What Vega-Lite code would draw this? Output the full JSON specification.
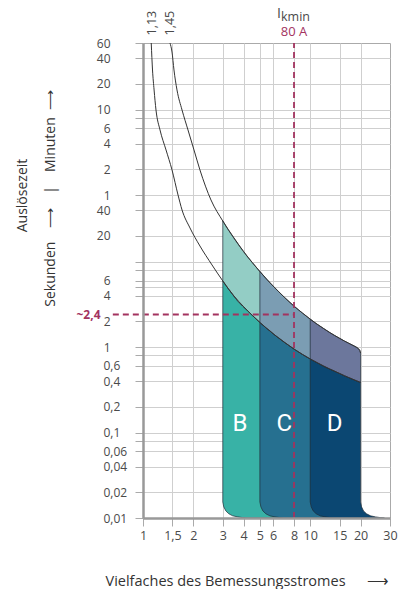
{
  "$schema": "https://vega.github.io/schema/vega-lite/v6.json",
  "width": 247,
  "height": 475,
  "autosize": {"type": "none"},
  "padding": {"left": 143, "top": 43, "right": 8, "bottom": 71},
  "background": "white",
  "config": {
    "font": "Open Sans",
    "view": {"stroke": "#aaaaaa", "strokeWidth": 1}
  },
  "resolve": {"axis": {"x": "independent", "y": "independent"}},
  "datasets": {
    "curves": [
      {"c": "U", "x": 1.45, "t": 3600}, {"c": "U", "x": 1.491, "t": 2825}, {"c": "U", "x": 1.532, "t": 1740},
      {"c": "U", "x": 1.597, "t": 1016}, {"c": "U", "x": 1.712, "t": 592}, {"c": "U", "x": 1.858, "t": 346},
      {"c": "U", "x": 2.018, "t": 202}, {"c": "U", "x": 2.19, "t": 118}, {"c": "U", "x": 2.55, "t": 52.5},
      {"c": "U", "x": 3, "t": 29.8}, {"c": "U", "x": 3.5, "t": 18.9}, {"c": "U", "x": 4, "t": 13.08},
      {"c": "U", "x": 4.5, "t": 9.75}, {"c": "U", "x": 5, "t": 7.63}, {"c": "U", "x": 5.5, "t": 6.2},
      {"c": "U", "x": 6, "t": 5.18}, {"c": "U", "x": 7, "t": 3.83}, {"c": "U", "x": 8, "t": 3.01},
      {"c": "U", "x": 9, "t": 2.49}, {"c": "U", "x": 10, "t": 2.12}, {"c": "U", "x": 11, "t": 1.85},
      {"c": "U", "x": 12, "t": 1.65}, {"c": "U", "x": 13, "t": 1.49}, {"c": "U", "x": 14, "t": 1.365},
      {"c": "U", "x": 15, "t": 1.263}, {"c": "U", "x": 16, "t": 1.177}, {"c": "U", "x": 17, "t": 1.107},
      {"c": "U", "x": 18, "t": 1.046}, {"c": "U", "x": 19, "t": 0.988}, {"c": "U", "x": 19.5, "t": 0.949},
      {"c": "U", "x": 19.8, "t": 0.912}, {"c": "U", "x": 20, "t": 0.852},
      {"c": "L", "x": 1.12, "t": 3600}, {"c": "L", "x": 1.14, "t": 1740}, {"c": "L", "x": 1.165, "t": 1016},
      {"c": "L", "x": 1.196, "t": 592}, {"c": "L", "x": 1.264, "t": 346}, {"c": "L", "x": 1.373, "t": 202},
      {"c": "L", "x": 1.491, "t": 118}, {"c": "L", "x": 1.62, "t": 60}, {"c": "L", "x": 1.712, "t": 40.1},
      {"c": "L", "x": 1.91, "t": 24.7}, {"c": "L", "x": 2.19, "t": 15.2}, {"c": "L", "x": 2.587, "t": 9.12},
      {"c": "L", "x": 3, "t": 5.93}, {"c": "L", "x": 3.5, "t": 3.95}, {"c": "L", "x": 4, "t": 2.96},
      {"c": "L", "x": 4.5, "t": 2.35}, {"c": "L", "x": 5, "t": 1.94}, {"c": "L", "x": 5.5, "t": 1.65},
      {"c": "L", "x": 6, "t": 1.43}, {"c": "L", "x": 7, "t": 1.137}, {"c": "L", "x": 8, "t": 0.947},
      {"c": "L", "x": 9, "t": 0.818}, {"c": "L", "x": 10, "t": 0.725}, {"c": "L", "x": 11, "t": 0.657},
      {"c": "L", "x": 12, "t": 0.602}, {"c": "L", "x": 13, "t": 0.557}, {"c": "L", "x": 14, "t": 0.521},
      {"c": "L", "x": 15, "t": 0.49}, {"c": "L", "x": 16, "t": 0.462}, {"c": "L", "x": 17, "t": 0.439},
      {"c": "L", "x": 18, "t": 0.419}, {"c": "L", "x": 19, "t": 0.401}, {"c": "L", "x": 20, "t": 0.385}
    ],
    "zones": [
      {"z": "B", "k": "B dark", "x": 3, "top": 5.93, "bot": 0.0154},
      {"z": "B", "k": "B dark", "x": 3.04, "top": 5.74, "bot": 0.0135},
      {"z": "B", "k": "B dark", "x": 3.13, "top": 5.26, "bot": 0.0121},
      {"z": "B", "k": "B dark", "x": 3.26, "top": 4.73, "bot": 0.0112},
      {"z": "B", "k": "B dark", "x": 3.44, "top": 4.1, "bot": 0.0106},
      {"z": "B", "k": "B dark", "x": 3.69, "top": 3.44, "bot": 0.0103},
      {"z": "B", "k": "B dark", "x": 3.95, "top": 3.0, "bot": 0.0101},
      {"z": "B", "k": "B dark", "x": 4.18, "top": 2.71, "bot": 0.01},
      {"z": "B", "k": "B dark", "x": 4.5, "top": 2.35, "bot": 0.01},
      {"z": "B", "k": "B dark", "x": 5, "top": 1.94, "bot": 0.01},
      {"z": "B", "k": "B dark", "x": 5.5, "top": 1.65, "bot": 0.01},
      {"z": "B", "k": "B dark", "x": 6, "top": 1.43, "bot": 0.01},
      {"z": "B", "k": "B dark", "x": 7, "top": 1.137, "bot": 0.01},
      {"z": "B", "k": "B light", "x": 3, "top": 29.8, "bot": 5.93},
      {"z": "B", "k": "B light", "x": 3.04, "top": 28.7, "bot": 5.74},
      {"z": "B", "k": "B light", "x": 3.13, "top": 26.0, "bot": 5.26},
      {"z": "B", "k": "B light", "x": 3.26, "top": 23.0, "bot": 4.73},
      {"z": "B", "k": "B light", "x": 3.44, "top": 19.6, "bot": 4.1},
      {"z": "B", "k": "B light", "x": 3.69, "top": 16.1, "bot": 3.44},
      {"z": "B", "k": "B light", "x": 3.95, "top": 13.4, "bot": 3.0},
      {"z": "B", "k": "B light", "x": 4.18, "top": 11.6, "bot": 2.71},
      {"z": "B", "k": "B light", "x": 4.5, "top": 9.75, "bot": 2.35},
      {"z": "B", "k": "B light", "x": 5, "top": 7.63, "bot": 1.94},
      {"z": "B", "k": "B light", "x": 5.3, "top": 6.74, "bot": 1.75},
      {"z": "C", "k": "C dark", "x": 5, "top": 1.94, "bot": 0.0154},
      {"z": "C", "k": "C dark", "x": 5.07, "top": 1.89, "bot": 0.0135},
      {"z": "C", "k": "C dark", "x": 5.21, "top": 1.81, "bot": 0.0121},
      {"z": "C", "k": "C dark", "x": 5.43, "top": 1.68, "bot": 0.0112},
      {"z": "C", "k": "C dark", "x": 5.74, "top": 1.55, "bot": 0.0106},
      {"z": "C", "k": "C dark", "x": 6.15, "top": 1.38, "bot": 0.0103},
      {"z": "C", "k": "C dark", "x": 6.59, "top": 1.25, "bot": 0.0101},
      {"z": "C", "k": "C dark", "x": 6.96, "top": 1.15, "bot": 0.01},
      {"z": "C", "k": "C dark", "x": 8, "top": 0.947, "bot": 0.01},
      {"z": "C", "k": "C dark", "x": 9, "top": 0.818, "bot": 0.01},
      {"z": "C", "k": "C dark", "x": 10, "top": 0.725, "bot": 0.01},
      {"z": "C", "k": "C dark", "x": 11, "top": 0.657, "bot": 0.01},
      {"z": "C", "k": "C dark", "x": 12, "top": 0.602, "bot": 0.01},
      {"z": "C", "k": "C dark", "x": 13, "top": 0.557, "bot": 0.01},
      {"z": "C", "k": "C dark", "x": 14, "top": 0.521, "bot": 0.01},
      {"z": "C", "k": "C light", "x": 5, "top": 7.63, "bot": 1.94},
      {"z": "C", "k": "C light", "x": 5.07, "top": 7.41, "bot": 1.89},
      {"z": "C", "k": "C light", "x": 5.21, "top": 6.98, "bot": 1.81},
      {"z": "C", "k": "C light", "x": 5.43, "top": 6.37, "bot": 1.68},
      {"z": "C", "k": "C light", "x": 5.74, "top": 5.64, "bot": 1.55},
      {"z": "C", "k": "C light", "x": 6.15, "top": 4.91, "bot": 1.38},
      {"z": "C", "k": "C light", "x": 6.59, "top": 4.29, "bot": 1.25},
      {"z": "C", "k": "C light", "x": 6.96, "top": 3.86, "bot": 1.15},
      {"z": "C", "k": "C light", "x": 8, "top": 3.01, "bot": 0.947},
      {"z": "C", "k": "C light", "x": 9, "top": 2.49, "bot": 0.818},
      {"z": "C", "k": "C light", "x": 10, "top": 2.12, "bot": 0.725},
      {"z": "C", "k": "C light", "x": 10.3, "top": 2.02, "bot": 0.706},
      {"z": "D", "k": "D dark", "x": 10, "top": 0.725, "bot": 0.0154},
      {"z": "D", "k": "D dark", "x": 10.14, "top": 0.714, "bot": 0.0135},
      {"z": "D", "k": "D dark", "x": 10.42, "top": 0.693, "bot": 0.0121},
      {"z": "D", "k": "D dark", "x": 10.86, "top": 0.664, "bot": 0.0112},
      {"z": "D", "k": "D dark", "x": 11.48, "top": 0.625, "bot": 0.0106},
      {"z": "D", "k": "D dark", "x": 12.29, "top": 0.583, "bot": 0.0103},
      {"z": "D", "k": "D dark", "x": 13.17, "top": 0.549, "bot": 0.0101},
      {"z": "D", "k": "D dark", "x": 13.92, "top": 0.524, "bot": 0.01},
      {"z": "D", "k": "D dark", "x": 15, "top": 0.49, "bot": 0.01},
      {"z": "D", "k": "D dark", "x": 16, "top": 0.462, "bot": 0.01},
      {"z": "D", "k": "D dark", "x": 17, "top": 0.439, "bot": 0.01},
      {"z": "D", "k": "D dark", "x": 18, "top": 0.419, "bot": 0.01},
      {"z": "D", "k": "D dark", "x": 19, "top": 0.401, "bot": 0.01},
      {"z": "D", "k": "D dark", "x": 20, "top": 0.385, "bot": 0.01},
      {"z": "D", "k": "D dark", "x": 20.02, "top": 0.0154, "bot": 0.01},
      {"z": "D", "k": "D dark", "x": 20.28, "top": 0.0135, "bot": 0.01},
      {"z": "D", "k": "D dark", "x": 20.84, "top": 0.0121, "bot": 0.01},
      {"z": "D", "k": "D dark", "x": 21.72, "top": 0.0112, "bot": 0.01},
      {"z": "D", "k": "D dark", "x": 22.95, "top": 0.0106, "bot": 0.01},
      {"z": "D", "k": "D dark", "x": 24.6, "top": 0.0103, "bot": 0.01},
      {"z": "D", "k": "D dark", "x": 26.3, "top": 0.0101, "bot": 0.01},
      {"z": "D", "k": "D dark", "x": 27.8, "top": 0.01, "bot": 0.01},
      {"z": "D", "k": "D light", "x": 10, "top": 2.12, "bot": 0.725},
      {"z": "D", "k": "D light", "x": 10.14, "top": 2.07, "bot": 0.714},
      {"z": "D", "k": "D light", "x": 10.42, "top": 1.99, "bot": 0.693},
      {"z": "D", "k": "D light", "x": 10.86, "top": 1.88, "bot": 0.664},
      {"z": "D", "k": "D light", "x": 11.48, "top": 1.75, "bot": 0.625},
      {"z": "D", "k": "D light", "x": 12.29, "top": 1.6, "bot": 0.583},
      {"z": "D", "k": "D light", "x": 13.17, "top": 1.465, "bot": 0.549},
      {"z": "D", "k": "D light", "x": 13.92, "top": 1.373, "bot": 0.524},
      {"z": "D", "k": "D light", "x": 15, "top": 1.263, "bot": 0.49},
      {"z": "D", "k": "D light", "x": 16, "top": 1.177, "bot": 0.462},
      {"z": "D", "k": "D light", "x": 17, "top": 1.107, "bot": 0.439},
      {"z": "D", "k": "D light", "x": 18, "top": 1.046, "bot": 0.419},
      {"z": "D", "k": "D light", "x": 19, "top": 0.988, "bot": 0.401},
      {"z": "D", "k": "D light", "x": 19.5, "top": 0.949, "bot": 0.393},
      {"z": "D", "k": "D light", "x": 19.8, "top": 0.912, "bot": 0.388},
      {"z": "D", "k": "D light", "x": 20, "top": 0.852, "bot": 0.385}
    ],
    "dash": [
      {"x": 8, "x2": 8, "t": 0.01, "t2": 3600},
      {"x": 0.66, "x2": 8, "t": 2.4, "t2": 2.4}
    ],
    "letters": [
      {"x": 3.8, "t": 0.125, "txt": "B"},
      {"x": 7, "t": 0.125, "txt": "C"},
      {"x": 14, "t": 0.125, "txt": "D"}
    ],
    "top": [
      {"x": 8, "t": 4840, "txt": "80 A", "r": "a"},
      {"x": 8, "t": 7000, "txt": "I", "r": "i"},
      {"x": 8, "t": 7000, "txt": "kmin", "r": "k"}
    ]
  },
  "layer": [
    {
      "data": {"name": "zones"},
      "transform": [{"filter": "datum.z == 'B'"}],
      "mark": {"type": "area", "interpolate": "linear", "stroke": "#1e2b36", "strokeWidth": 0.7, "opacity": 1},
      "encoding": {
        "x": {"field": "x", "type": "quantitative", "scale": {"type": "log", "domain": [1, 30], "nice": false},
          "axis": {"orient": "bottom", "zindex": 0, "grid": true, "gridColor": "#cfcfcf", "gridWidth": 1, "domain": false, "ticks": false, "labels": false, "title": null,
            "values": [1.5, 2, 3, 4, 5, 6, 8, 10, 15, 20]}},
        "y": {"field": "top", "type": "quantitative", "scale": {"type": "log", "domain": [0.01, 3600], "nice": false},
          "axis": {"orient": "left", "zindex": 0, "grid": true, "gridColor": "#cfcfcf", "gridWidth": 1, "domain": false, "ticks": false, "labels": false,
            "values": [2400, 1200, 600, 480, 360, 240, 120, 60, 40, 20, 10, 8, 6, 5, 4, 2, 1, 0.8, 0.6, 0.4, 0.2, 0.1, 0.08, 0.06, 0.04, 0.02],
            "title": "Auslösezeit",
            "titleFontSize": 14, "titleFontWeight": "normal", "titleColor": "#333333",
            "titleAngle": 270, "titleAlign": "center", "titleBaseline": "middle",
            "titleX": -121, "titleY": 152}},
        "y2": {"field": "bot"},
        "color": {"field": "k", "type": "nominal", "legend": null,
          "scale": {"domain": ["B dark", "B light", "C dark", "C light", "D dark", "D light"],
            "range": ["#38b2a6", "#93cdc5", "#267090", "#7b9db3", "#0b4772", "#6c779c"]}}
      }
    },
    {
      "data": {"name": "zones"},
      "transform": [{"filter": "datum.z == 'C'"}],
      "mark": {"type": "area", "interpolate": "linear", "stroke": "#1e2b36", "strokeWidth": 0.7, "opacity": 1},
      "encoding": {
        "x": {"field": "x", "type": "quantitative", "scale": {"type": "log", "domain": [1, 30], "nice": false}, "axis": null},
        "y": {"field": "top", "type": "quantitative", "scale": {"type": "log", "domain": [0.01, 3600], "nice": false}, "axis": null},
        "y2": {"field": "bot"},
        "color": {"field": "k", "type": "nominal", "legend": null}
      }
    },
    {
      "data": {"name": "zones"},
      "transform": [{"filter": "datum.z == 'D'"}],
      "mark": {"type": "area", "interpolate": "linear", "stroke": "#1e2b36", "strokeWidth": 0.7, "opacity": 1},
      "encoding": {
        "x": {"field": "x", "type": "quantitative", "scale": {"type": "log", "domain": [1, 30], "nice": false}, "axis": null},
        "y": {"field": "top", "type": "quantitative", "scale": {"type": "log", "domain": [0.01, 3600], "nice": false}, "axis": null},
        "y2": {"field": "bot"},
        "color": {"field": "k", "type": "nominal", "legend": null}
      }
    },
    {
      "data": {"name": "curves"},
      "mark": {"type": "line", "interpolate": "monotone", "color": "#333333", "strokeWidth": 1},
      "encoding": {
        "x": {"field": "x", "type": "quantitative", "scale": {"type": "log", "domain": [1, 30], "nice": false},
          "axis": {"orient": "bottom", "zindex": 1, "grid": false,
            "values": [1, 1.5, 2, 3, 4, 5, 6, 8, 10, 15, 20, 30],
            "labelExpr": "replace(format(datum.value, '~g'), '.', ',')",
            "labelFlush": false, "labelOverlap": false,
            "tickSize": 8, "tickColor": "#aaaaaa", "tickWidth": 1,
            "domainColor": "#999999", "domainWidth": 2.5,
            "labelColor": "#4a4a4a", "labelFontSize": 12.5, "labelPadding": 3,
            "title": "Vielfaches des Bemessungsstromes\u2003\u2002⟶",
            "titleFontSize": 14.5, "titleFontWeight": "normal", "titleColor": "#333333",
            "titleAlign": "left", "titleAnchor": "start", "titleX": -38, "titleY": 67, "titleBaseline": "alphabetic"}},
        "y": {"field": "t", "type": "quantitative", "scale": {"type": "log", "domain": [0.01, 3600], "nice": false},
          "axis": {"orient": "left", "zindex": 1, "grid": false,
            "values": [3600, 2400, 1200, 600, 480, 360, 240, 120, 60, 40, 20, 10, 8, 6, 5, 4, 2.4, 2, 1, 0.8, 0.6, 0.4, 0.2, 0.1, 0.08, 0.06, 0.04, 0.02, 0.01],
            "labelExpr": "indexof([480, 10, 8, 5, 0.8, 0.08], datum.value) >= 0 ? '' : datum.value == 2.4 ? '~2,4' : datum.value >= 60 ? format(datum.value / 60, 'd') : replace(format(datum.value, '~g'), '.', ',')",
            "labelFlush": false, "labelOverlap": false, "labelBound": false,
            "tickSize": 8, "tickColor": "#aaaaaa", "tickWidth": 1,
            "tickOpacity": {"condition": {"test": "datum.value == 2.4", "value": 0}, "value": 1},
            "domainColor": "#999999", "domainWidth": 2.5,
            "labelColor": {"condition": {"test": "datum.value == 2.4", "value": "#a3335f"}, "value": "#4a4a4a"},
            "labelFontWeight": {"condition": {"test": "datum.value == 2.4", "value": "bold"}, "value": "normal"},
            "labelAlign": {"condition": {"test": "datum.value < 1", "value": "left"}, "value": "right"},
            "labelPadding": {"expr": "datum.value < 1 ? 32 : datum.value == 2.4 ? 35 : 25"},
            "labelFontSize": 12, "labelBaseline": "middle",
            "title": "Sekunden\u2003⟶\u2003|\u2003Minuten\u2002⟶",
            "titleFontSize": 14, "titleFontWeight": "normal", "titleColor": "#333333",
            "titleAngle": 270, "titleAlign": "center", "titleBaseline": "middle",
            "titleX": -93, "titleY": 155}},
        "detail": {"field": "c", "type": "nominal"}
      }
    },
    {
      "data": {"name": "dash"},
      "mark": {"type": "rule", "color": "#a3335f", "strokeWidth": 1.8, "strokeDash": [6, 4]},
      "encoding": {
        "x": {"field": "x", "type": "quantitative", "scale": {"type": "log", "domain": [1, 30], "nice": false},
          "axis": {"orient": "top", "values": [1.13, 1.45], "grid": false, "domain": false, "ticks": false, "tickSize": 0,
            "labelExpr": "replace(format(datum.value, '~g'), '.', ',')",
            "labelAngle": 270, "labelAlign": "left", "labelBaseline": "middle", "labelPadding": 8,
            "labelFlush": false, "labelOverlap": false, "labelColor": "#4a4a4a", "labelFontSize": 12.5, "title": null}},
        "x2": {"field": "x2"},
        "y": {"field": "t", "type": "quantitative", "scale": {"type": "log", "domain": [0.01, 3600], "nice": false}, "axis": null},
        "y2": {"field": "t2"}
      }
    },
    {
      "data": {"name": "letters"},
      "mark": {"type": "text", "font": "Roboto", "fontSize": 24, "color": "white", "align": "center", "baseline": "middle"},
      "encoding": {
        "x": {"field": "x", "type": "quantitative", "scale": {"type": "log", "domain": [1, 30], "nice": false}, "axis": null},
        "y": {"field": "t", "type": "quantitative", "scale": {"type": "log", "domain": [0.01, 3600], "nice": false}, "axis": null},
        "text": {"field": "txt"}
      }
    },
    {
      "data": {"name": "top"},
      "transform": [{"filter": "datum.r == 'a'"}],
      "mark": {"type": "text", "fontSize": 13, "color": "#a3335f", "align": "center", "baseline": "middle"},
      "encoding": {
        "x": {"field": "x", "type": "quantitative", "scale": {"type": "log", "domain": [1, 30], "nice": false}, "axis": null},
        "y": {"field": "t", "type": "quantitative", "scale": {"type": "log", "domain": [0.01, 3600], "nice": false}, "axis": null},
        "text": {"field": "txt"}
      }
    },
    {
      "data": {"name": "top"},
      "transform": [{"filter": "datum.r == 'i'"}],
      "mark": {"type": "text", "fontSize": 14, "color": "#4a4a4a", "align": "left", "baseline": "alphabetic", "dx": -17},
      "encoding": {
        "x": {"field": "x", "type": "quantitative", "scale": {"type": "log", "domain": [1, 30], "nice": false}, "axis": null},
        "y": {"field": "t", "type": "quantitative", "scale": {"type": "log", "domain": [0.01, 3600], "nice": false}, "axis": null},
        "text": {"field": "txt"}
      }
    },
    {
      "data": {"name": "top"},
      "transform": [{"filter": "datum.r == 'k'"}],
      "mark": {"type": "text", "fontSize": 12.5, "color": "#4a4a4a", "align": "left", "baseline": "alphabetic", "dx": -13, "dy": 3},
      "encoding": {
        "x": {"field": "x", "type": "quantitative", "scale": {"type": "log", "domain": [1, 30], "nice": false}, "axis": null},
        "y": {"field": "t", "type": "quantitative", "scale": {"type": "log", "domain": [0.01, 3600], "nice": false}, "axis": null},
        "text": {"field": "txt"}
      }
    }
  ]
}
